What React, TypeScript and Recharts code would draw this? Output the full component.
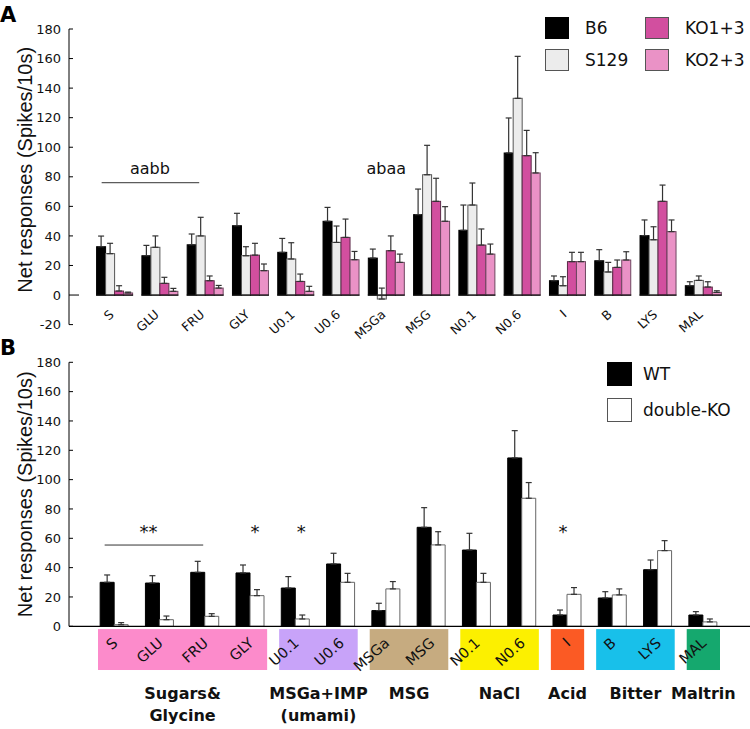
import React from 'react';
import { BarChart, Bar, XAxis, YAxis, ErrorBar, Legend, ReferenceArea, ReferenceLine, ReferenceDot } from 'recharts';

const FONT = '"DejaVu Sans", sans-serif';
const FONT_ARIAL = '"Liberation Sans", Arial, sans-serif';

// stimuli (x categories), shared by both panels
const categories = ['S', 'GLU', 'FRU', 'GLY', 'U0.1', 'U0.6', 'MSGa', 'MSG', 'N0.1', 'N0.6', 'I', 'B', 'LYS', 'MAL'];

// panel A: four strains, mean and +SE
const b6 = [32.7, 26.6, 34, 46.9, 28.9, 49.9, 25, 54.4, 43.8, 96.1, 9.7, 23.2, 40.2, 6.3];
const b6Err = [7.2, 7, 7.3, 8.4, 9.4, 9.4, 6.1, 17.3, 17.1, 23.7, 3.2, 7.5, 10.6, 2.7];
const s129 = [28, 32.3, 40, 26.6, 24.4, 35.6, -2.7, 81.4, 60.9, 133.1, 6.3, 15.6, 37.4, 9.9];
const s129Err = [7, 7.7, 12.6, 6.1, 11, 11.1, 7.4, 19.9, 14.9, 28.4, 6.1, 6.5, 8.8, 3];
const ko13 = [2.7, 7.9, 9.7, 27, 9.2, 39, 30, 63.4, 33.8, 94.3, 22.6, 18.7, 63.4, 5.4];
const ko13Err = [3.6, 4.1, 3.2, 8, 5, 12.4, 10, 15.6, 10.9, 17.1, 6.3, 5, 11, 3.6];
const ko23 = [1.4, 2.5, 4.7, 16.5, 2.5, 23.9, 22.1, 49.9, 27.7, 82.6, 22.6, 23.7, 42.9, 1.8];
const ko23Err = [0.6, 2, 1.8, 4.5, 3.4, 5.6, 5.6, 9.9, 6.8, 13.7, 6.3, 5.6, 7.9, 1.1];

// panel B: WT vs double-KO
const wt = [30, 29.5, 36.8, 36.4, 26.1, 42.5, 10.7, 67.5, 52, 114.8, 7.7, 19.3, 38.6, 7.7];
const wtErr = [5, 5, 7.5, 5.4, 7.8, 7.3, 5, 13.4, 11.4, 18.6, 3.4, 4.3, 6.6, 2.3];
const dko = [1.1, 4.5, 6.8, 20.9, 5, 30, 25.5, 55.5, 30, 87.3, 21.8, 21.4, 51.6, 3];
const dkoErr = [1.4, 2.5, 1.8, 4.1, 2.7, 6.1, 5, 9, 6.1, 10.7, 4.6, 4.1, 6.8, 2];

const ticksA = [-20, 0, 20, 40, 60, 80, 100, 120, 140, 160, 180];
const ticksB = [0, 20, 40, 60, 80, 100, 120, 140, 160, 180];

// taste groups under panel B
const groupLabels = [['Sugars&', 'Glycine'], ['MSGa+IMP', '(umami)'], ['MSG'], ['NaCl'], ['Acid'], ['Bitter'], ['Maltrin']];
const groupFirst = ['S', 'U0.1', 'MSGa', 'N0.1', 'I', 'B', 'MAL'];
const groupLast = ['GLY', 'U0.6', 'MSG', 'N0.6', 'I', 'LYS', 'MAL'];
const groupColors = ['#fc8bcb', '#c8a3f9', '#c6ab80', '#fcf000', '#fb5a24', '#18c0ea', '#15a86e'];

const seriesA = [
  { key: 'b6', name: 'B6', fill: '#000000', stroke: '#000000' },
  { key: 's129', name: 'S129', fill: '#ececec', stroke: '#555555' },
  { key: 'ko13', name: 'KO1+3', fill: '#d24f9f', stroke: '#5b2b48' },
  { key: 'ko23', name: 'KO2+3', fill: '#ea92c6', stroke: '#6e4760' },
];
const seriesB = [
  { key: 'wt', name: 'WT', fill: '#000000', stroke: '#000000' },
  { key: 'dko', name: 'double-KO', fill: '#ffffff', stroke: '#666666' },
];

const dataA = categories.map((name, i) => ({
  name,
  b6: b6[i], b6Err: [0, b6Err[i]],
  s129: s129[i], s129Err: [0, s129Err[i]],
  ko13: ko13[i], ko13Err: [0, ko13Err[i]],
  ko23: ko23[i], ko23Err: [0, ko23Err[i]],
}));
const dataB = categories.map((name, i) => ({
  name,
  wt: wt[i], wtErr: [0, wtErr[i]],
  dko: dko[i], dkoErr: [0, dkoErr[i]],
}));

// bar with its own little piece of baseline (panel A has a broken x axis)
const SegmentBar = (props: any) => {
  const { x, y, width, height, fill, stroke, value } = props;
  const v = Array.isArray(value) ? value[1] - value[0] : value;
  const top = Math.min(y, y + height);
  const h = Math.abs(height);
  const base = v < 0 ? top : top + h;
  return (
    <g>
      <rect x={x} y={top} width={width} height={h} fill={fill} stroke={stroke} strokeWidth={1} />
      <line x1={x - 0.5} x2={x + width + 0.5} y1={base} y2={base} stroke="#111" strokeWidth={1.3} />
    </g>
  );
};

const YTick = (props: any) => {
  const { x, y, payload, longZero } = props;
  const len = longZero && payload.value === 0 ? 10 : 4;
  return (
    <g>
      <line x1={x + 8} x2={x + 8 + len} y1={y} y2={y} stroke="#000" strokeWidth={1} />
      <text x={x} y={y} dy={4.6} textAnchor="end" fontSize={13} fontFamily={FONT} fill="#111">
        {payload.value}
      </text>
    </g>
  );
};

// slanted category labels; dx/dy move the label's end point off the axis
const slantTick = (dx: number, dy: number, size: number) => (props: any) => {
  const { x, y, payload } = props;
  return (
    <g transform={`translate(${x + dx},${y + dy})`}>
      <text transform="rotate(-42)" textAnchor="end" fontSize={size} fontFamily={FONT} fill="#111">
        {payload.value}
      </text>
    </g>
  );
};

const yTitle = (dy: number) => (props: any) => {
  const vb = props.viewBox;
  return (
    <text
      transform={`translate(${vb.x + 25},${vb.y + vb.height / 2 + dy}) rotate(-90)`}
      textAnchor="middle"
      dominantBaseline="central"
      fontSize={20}
      fontFamily={FONT_ARIAL}
      fill="#111"
    >
      Net responses (Spikes/10s)
    </text>
  );
};

const GroupBox = (props: any) => {
  const { x, y, width, height, fill } = props;
  return <rect x={x + 6} y={Math.min(y, y + height)} width={width - 12} height={Math.abs(height)} fill={fill} />;
};

const groupLabel = (lines: string[]) => (props: any) => {
  const vb = props.viewBox;
  const cx = vb.x + vb.width / 2;
  const bottom = Math.max(vb.y, vb.y + vb.height);
  return (
    <text textAnchor="middle" fontSize={16} fontWeight="bold" fontFamily={FONT} fill="#111">
      {lines.map((t, i) => (
        <tspan key={t} x={cx} y={bottom + 29 + i * 22}>{t}</tspan>
      ))}
    </text>
  );
};

const note = (text: string, dx: number, size: number) => (props: any) => (
  <text x={props.cx + dx} y={props.cy} textAnchor="middle" fontSize={size} fontFamily={FONT} fill="#111">
    {text}
  </text>
);

const shiftedLine = (d1: number, d2: number) => (props: any) => (
  <line x1={props.x1 + d1} x2={props.x2 + d2} y1={props.y1} y2={props.y2} stroke="#333" strokeWidth={1} />
);

// legend drawn from the series list so the order stays as in the figure
const legendGrid = (series: any[], left: number, top: number, colW: number, rowH: number, sqW: number, sqH: number, textDx: number, perCol: number) => () => (
  <div style={{ position: 'relative', width: 750, height: 100 }}>
    {series.map((s: any, i: number) => {
      const col = Math.floor(i / perCol);
      const row = i % perCol;
      const l = left + col * colW;
      const t = top + row * rowH;
      return (
        <React.Fragment key={s.key}>
          <div style={{ position: 'absolute', left: l, top: t, width: sqW, height: sqH, boxSizing: 'border-box', background: s.fill, border: `1.5px solid ${s.key === 'b6' || s.key === 'wt' ? '#000' : '#555'}` }} />
          <div style={{ position: 'absolute', left: l + textDx, top: t, height: sqH, lineHeight: `${sqH}px`, fontFamily: FONT, fontSize: 17, color: '#111', whiteSpace: 'nowrap' }}>
            {s.name}
          </div>
        </React.Fragment>
      );
    })}
  </div>
);

const PanelA = () => (
  <BarChart width={750} height={340} data={dataA} margin={{ top: 29, right: 0, left: 0, bottom: 0.4 }} barCategoryGap={4.6} barGap={0}>
    <XAxis dataKey="name" type="category" axisLine={false} tickLine={false} tickSize={0} tickMargin={0} height={15} padding={{ left: 23, right: 24 }} interval={0} tick={slantTick(0, -9, 12.5)} />
    <YAxis type="number" domain={[-20, 180]} ticks={ticksA} width={69} allowDataOverflow axisLine={{ stroke: '#000' }} tickLine={false} tickSize={0} tickMargin={8} tick={<YTick longZero />} label={yTitle(-7)} />
    <Legend layout="vertical" align="center" verticalAlign="middle" wrapperStyle={{ left: 0, top: 0, width: 750, height: 100 }} content={legendGrid(seriesA, 545, 17, 100, 32, 24, 22, 40, 2)} />
    {seriesA.map((s) => (
      <Bar key={s.key} dataKey={s.key} name={s.name} fill={s.fill} stroke={s.stroke} isAnimationActive={false} shape={<SegmentBar />}>
        <ErrorBar dataKey={`${s.key}Err`} width={3} stroke="#333" strokeWidth={1.2} direction="y" isAnimationActive={false} />
      </Bar>
    ))}
    <ReferenceLine segment={[{ x: 'S', y: 76 }, { x: 'FRU', y: 76 }]} ifOverflow="visible" shape={shiftedLine(-13, -6)} />
    <ReferenceDot x="GLU" y={82} r={0} ifOverflow="visible" shape={note('aabb', -10, 16)} />
    <ReferenceDot x="MSGa" y={82} r={0} ifOverflow="visible" shape={note('abaa', 0, 16)} />
  </BarChart>
);

const PanelB = () => (
  <BarChart width={750} height={394} data={dataB} margin={{ top: 27.3, right: 0, left: 0, bottom: 2.7 }} barCategoryGap={8.15} barGap={0}>
    {groupFirst.map((g, i) => (
      <ReferenceArea
        key={g}
        x1={g}
        x2={groupLast[i]}
        y1={-1.9}
        y2={-29.8}
        fill={groupColors[i]}
        fillOpacity={1}
        ifOverflow="visible"
        shape={<GroupBox />}
        label={groupLabel(groupLabels[i])}
      />
    ))}
    <XAxis dataKey="name" type="category" axisLine={{ stroke: '#000', strokeWidth: 1.2 }} tickLine={false} tickSize={0} tickMargin={0} height={100} padding={{ left: 23, right: 24 }} interval={0} tick={slantTick(4, 18, 14.5)} />
    <YAxis type="number" domain={[0, 180]} ticks={ticksB} width={69} allowDataOverflow axisLine={{ stroke: '#000' }} tickLine={false} tickSize={0} tickMargin={8} tick={<YTick />} label={yTitle(0)} />
    <Legend layout="vertical" align="center" verticalAlign="middle" wrapperStyle={{ left: 0, top: 0, width: 750, height: 100 }} content={legendGrid(seriesB, 607, 27, 100, 36, 25, 24, 36, 2)} />
    {seriesB.map((s) => (
      <Bar key={s.key} dataKey={s.key} name={s.name} fill={s.fill} stroke={s.stroke} isAnimationActive={false}>
        <ErrorBar dataKey={`${s.key}Err`} width={3} stroke="#333" strokeWidth={1.2} direction="y" isAnimationActive={false} />
      </Bar>
    ))}
    <ReferenceLine segment={[{ x: 'S', y: 55.4 }, { x: 'FRU', y: 55.4 }]} ifOverflow="visible" shape={shiftedLine(-10, -2)} />
    <ReferenceDot x="GLU" y={60} r={0} ifOverflow="visible" shape={note('**', -11.5, 18)} />
    <ReferenceDot x="GLY" y={60} r={0} ifOverflow="visible" shape={note('*', 4.5, 18)} />
    <ReferenceDot x="U0.1" y={60} r={0} ifOverflow="visible" shape={note('*', 5.5, 18)} />
    <ReferenceDot x="I" y={60} r={0} ifOverflow="visible" shape={note('*', -4.5, 18)} />
  </BarChart>
);

export default function App() {
  return (
    <div style={{ position: 'absolute', left: 0, top: 0, width: 750, height: 729, background: '#fff', overflow: 'hidden' }}>
      <div style={{ position: 'absolute', left: 0, top: 0 }}>
        <PanelA />
      </div>
      <div style={{ position: 'absolute', left: 0, top: 335 }}>
        <PanelB />
      </div>
      <svg width={750} height={729} style={{ position: 'absolute', left: 0, top: 0, pointerEvents: 'none' }}>
        <text x={0} y={22} fontSize={21} fontWeight="bold" fontFamily={FONT} fill="#000">A</text>
        <text x={0} y={355} fontSize={21} fontWeight="bold" fontFamily={FONT} fill="#000">B</text>
      </svg>
    </div>
  );
}
